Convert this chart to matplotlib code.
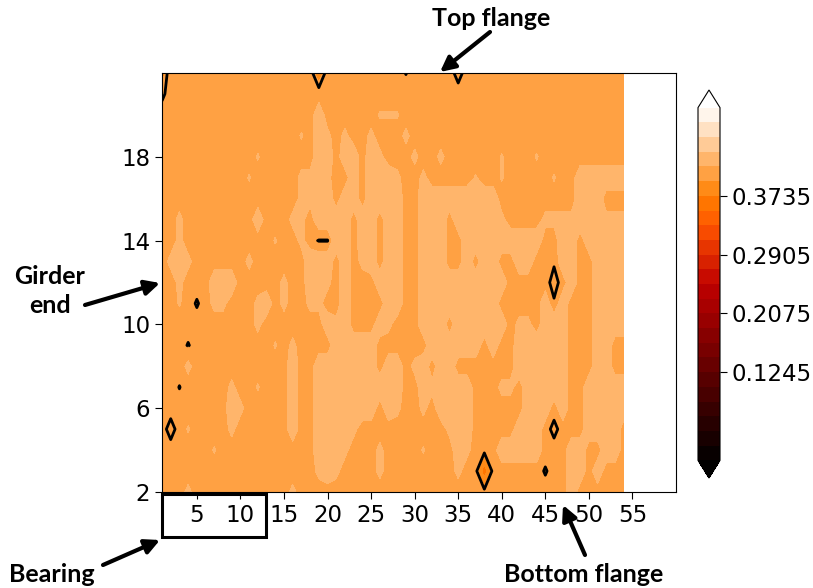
import numpy as np
import matplotlib
matplotlib.use('Agg')
import matplotlib.pyplot as plt
from matplotlib.patches import Rectangle, FancyArrowPatch

# grid of the girder face: x = 1..54, y = 2..22
x_pos = np.arange(1, 55)
y_pos = np.arange(2, 23)

# field, first row is y = 22, last row is y = 2
# columns grouped as x 1-16 | 17-36 | 37-40 | 41-50 | 51-54
# '.' main band, 'o' light band, '+' and ':' only just into the light band
field_rows = [
    '................' '....................' '....' '..........' '....',
    '................' '....................' '....' '..........' '....',
    '................' '..o......:::........' '....' '..........' '....',
    '................' ':.o+.+..+...+.......' '....' '..........' '....',
    '...........:....' '..oo.oo.o+...+..+...' '...:' '...:......' '....',
    '..........:.....' '++o+..o.ooo+..+.....' ':..:' '.....:..oo' 'oooo',
    '................' '++oo.oo.oooo..oooooo' 'ooo.' '........oo' 'o...',
    '..+........o...+' '+.oooo.oo.oo..ooo.oo' 'ooo+' '....++++oo' 'o+++',
    '..+..........:..' '+...oo.oo.oo..ooo..o' 'oooo' 'oooo..oo.o' 'oooo',
    '.+++......+.....' '.ooo.o.+o.oo..ooo..o' '.oo.' '.oo...oo..' 'oooo',
    '..+...ooo.....+.' '.oo+.o...ooo..oooooo' 'oooo' '.......o..' 'oooo',
    '..:...++...+o.+.' '.++..o....oo..oooooo' 'ooo.' '....ooo...' 'oooo',
    '...........+....' '...o+o...o+...ooo.oo' 'oooo' '.++.ooo...' 'oooo',
    '.............:.+' '....ooooo......ooooo' 'o.o.' '.oooooo...' 'oo..',
    '...+...........o' '..ooooooo.oo.+o.oo..' '....' '.oooooo...' 'oo..',
    '........+..:...o' '..oooooooooo..o+oooo' '...+' '+.ooooo..o' 'oooo',
    '........o+.....o' '..ooooooo.o+..+.oooo' '....' '..ooo.o..o' 'oooo',
    '...:....+......o' '..oooo+..........+oo' '....' '.ooo.....o' 'ooo.',
    '......:.........' '..ooo+...+....:...o+' '...o' 'oooo...oo.' '.oo.',
    '................' '..+o+....+........+.' '....' '.......oo.' 'o...',
    '...+...........+' '....................' '....' '.......o..' '....',
]
band_values = {'.': 0.405, ':': 0.417, '+': 0.421, 'o': 0.43}

# single low readings (x, y): value, these give the black rings
spots = {
    (1, 22): 0.39, (1, 21): 0.396, (19, 22): 0.385, (29, 22): 0.3985,
    (35, 22): 0.3935, (19, 14): 0.398, (20, 14): 0.398, (5, 11): 0.3975,
    (4, 9): 0.398, (3, 7): 0.3985, (2, 5): 0.393, (46, 13): 0.401,
    (46, 12): 0.393, (46, 11): 0.401, (46, 5): 0.3945, (38, 3): 0.36,
    (45, 3): 0.3975,
}

levels = np.linspace(0, 0.498, 25)
line_level = [0.399]
cbar_ticks = [0.1245, 0.2075, 0.2905, 0.3735]

Z = np.array([[band_values[c] for c in row] for row in field_rows[::-1]])
for (xi, yi), v in spots.items():
    Z[yi - 2, xi - 1] = v
X, Y = np.meshgrid(x_pos, y_pos)

W, H = 813, 588
fig = plt.figure(figsize=(W / 100, H / 100), dpi=100)
ax = fig.add_axes([162 / W, 1 - 492 / H, 514 / W, 419 / H])
cax = fig.add_axes([698 / W, 1 - 478 / H, 22 / W, 388 / H])

cf = ax.contourf(X, Y, Z, levels=levels, cmap='gist_heat', extend='both')
ax.contour(X, Y, Z, levels=line_level, colors='k', linewidths=2)

ax.set_xlim(1, 60)
ax.set_ylim(2, 22)
ax.set_xticks(range(5, 60, 5))
ax.set_yticks([2, 6, 10, 14, 18])
ax.tick_params(labelsize=16.5, length=5)

cbar = fig.colorbar(cf, cax=cax, ticks=cbar_ticks, format='%.4f')
cbar.ax.tick_params(labelsize=16.5, length=5)

note_font = dict(family=['Lato', 'DejaVu Sans'], weight='bold',
                 size=18, ha='center', va='center')


def px(x, y):
    # image pixels (top-left origin) -> figure fraction
    return (x / W, 1 - y / H)


fig.text(*px(491, 18), 'Top flange', **note_font)
fig.text(*px(50, 291), 'Girder\nend', linespacing=1.3, **note_font)
fig.text(*px(52, 575), 'Bearing', **note_font)
fig.text(*px(584, 575), 'Bottom flange', **note_font)

arrows = [((490, 32), (440, 72)), ((85, 305), (160, 283)),
          ((103, 565), (160, 540)), ((585, 555), (563, 505))]
for tail, head in arrows:
    fig.add_artist(FancyArrowPatch(px(*tail), px(*head), transform=fig.transFigure,
                                   arrowstyle='-|>', color='k', lw=3,
                                   mutation_scale=22, shrinkA=0, shrinkB=0))

fig.add_artist(Rectangle(px(162, 537), 104 / W, 43 / H, fill=False,
                         edgecolor='k', lw=2.2, transform=fig.transFigure))

fig.savefig('out.png', dpi=100)
